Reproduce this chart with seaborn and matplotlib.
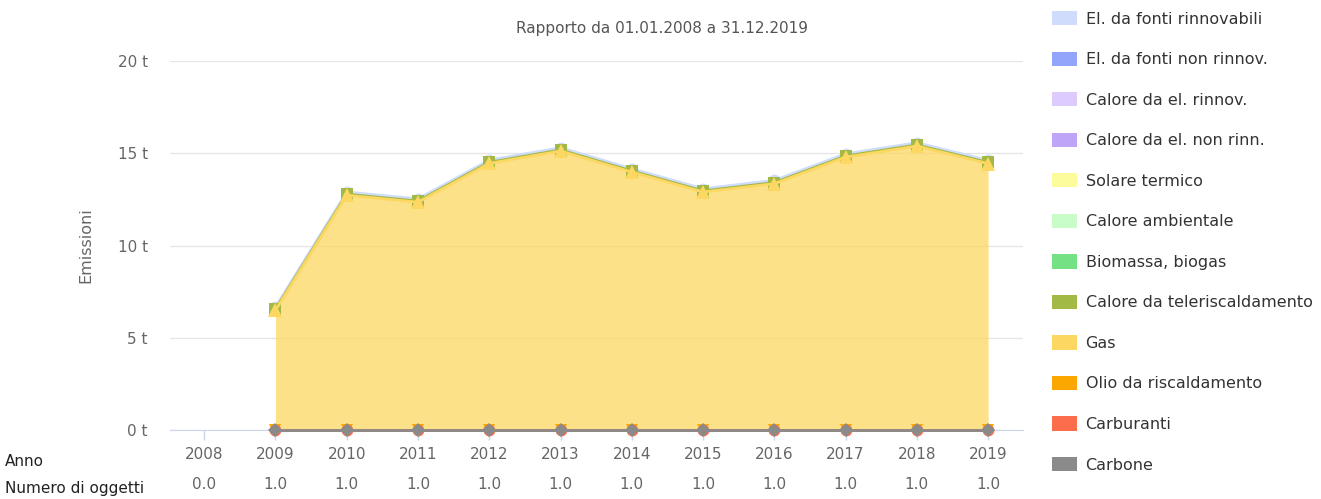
import numpy as np
import pandas as pd
import matplotlib
matplotlib.use("Agg")
import matplotlib.pyplot as plt
import matplotlib.patches as mpatches
import matplotlib.transforms as mtransforms
import seaborn as sns

# Data
anni = [2008, 2009, 2010, 2011, 2012, 2013, 2014, 2015, 2016, 2017, 2018, 2019]
numero_oggetti = [0.0, 1.0, 1.0, 1.0, 1.0, 1.0, 1.0, 1.0, 1.0, 1.0, 1.0, 1.0]

anni_dati = [2009, 2010, 2011, 2012, 2013, 2014, 2015, 2016, 2017, 2018, 2019]
carbone = [0.0, 0.0, 0.0, 0.0, 0.0, 0.0, 0.0, 0.0, 0.0, 0.0, 0.0]
carburanti = [0.0, 0.0, 0.0, 0.0, 0.0, 0.0, 0.0, 0.0, 0.0, 0.0, 0.0]
olio = [0.0, 0.0, 0.0, 0.0, 0.0, 0.0, 0.0, 0.0, 0.0, 0.0, 0.0]
gas = [6.48, 12.72, 12.35, 14.45, 15.12, 13.98, 12.90, 13.35, 14.79, 15.39, 14.44]
teleriscaldamento = [0.06, 0.06, 0.06, 0.06, 0.06, 0.06, 0.06, 0.06, 0.06, 0.06, 0.06]
el_rinnovabili = [0.12, 0.12, 0.12, 0.12, 0.12, 0.12, 0.12, 0.12, 0.12, 0.12, 0.12]

serie = ["El. da fonti rinnovabili", "El. da fonti non rinnov.", "Calore da el. rinnov.",
         "Calore da el. non rinn.", "Solare termico", "Calore ambientale", "Biomassa, biogas",
         "Calore da teleriscaldamento", "Gas", "Olio da riscaldamento", "Carburanti", "Carbone"]
colori = ["#cfdcfc", "#93a5fa", "#dccbfc", "#bfa5f8", "#fdfc9d", "#c8fcc8", "#74e184",
          "#a2b946", "#fcd862", "#fca600", "#fc6e4b", "#8a8a8a"]

sns.set_style("white")
plt.rcParams['font.family'] = ['DejaVu Sans']

fig = plt.figure(figsize=(13.21, 4.99), dpi=100)
ax = fig.add_axes([170 / 1321, 1 - 430 / 499, 853 / 1321, 369 / 499])

# stacked areas, bottom-up
stack = [("Carbone", carbone), ("Carburanti", carburanti), ("Olio da riscaldamento", olio),
         ("Gas", gas), ("Calore da teleriscaldamento", teleriscaldamento),
         ("El. da fonti rinnovabili", el_rinnovabili)]
col = dict(zip(serie, colori))
base = np.zeros(len(anni_dati))
tops = {}
for nome, vals in stack:
    top = base + np.array(vals)
    ax.fill_between(anni_dati, base, top, color=col[nome], alpha=0.75, lw=0, zorder=2)
    tops[nome] = top
    base = top

# series lines (top of each stacked layer), top series first so later ones sit on top
ordine = ["El. da fonti rinnovabili", "Calore da teleriscaldamento", "Gas",
          "Olio da riscaldamento", "Carburanti", "Carbone"]
markers = {"El. da fonti rinnovabili": "o", "Calore da teleriscaldamento": "s", "Gas": "^",
           "Olio da riscaldamento": "v", "Carburanti": "o", "Carbone": "D"}
msize = {"o": 8.5, "s": 8.5, "^": 9.5, "v": 8, "D": 7}
for i, nome in enumerate(ordine):
    df = pd.DataFrame({"anno": anni_dati, "valore": tops[nome]})
    m = markers[nome]
    sns.lineplot(data=df, x="anno", y="valore", ax=ax, color=col[nome], lw=2,
                 marker=m, markersize=msize[m], markeredgewidth=0)
for i, line in enumerate(ax.get_lines()):
    line.set_zorder(4 + i)
    line.set_clip_on(False)

# axes styling
ax.set_xlim(2007.52, 2019.49)
ax.set_ylim(0, 20)
ax.set_yticks([0, 5, 10, 15, 20])
ax.set_yticklabels(["0 t", "5 t", "10 t", "15 t", "20 t"])
ax.set_xticks(anni)
ax.set_xticklabels([str(a) for a in anni])
ax.grid(axis="y", color="#e6e6e6", lw=1)
ax.grid(axis="x", visible=False)
ax.set_axisbelow(True)
for s in ["top", "right", "left"]:
    ax.spines[s].set_visible(False)
ax.spines["bottom"].set_color("#ccd6eb")
ax.spines["bottom"].set_zorder(1)
ax.tick_params(axis="y", length=0, pad=16, labelsize=11, labelcolor="#666666")
ax.tick_params(axis="x", length=7, width=1, color="#ccd6eb", pad=5, labelsize=11,
               labelcolor="#666666", bottom=True)
ax.set_xlabel("")
ax.set_ylabel("Emissioni", fontsize=11.5, color="#666666")
ax.yaxis.set_label_coords(-0.09, 0.5)

fig.text(662 / 1321, 1 - 28 / 499, "Rapporto da 01.01.2008 a 31.12.2019", ha="center",
         va="center", fontsize=11, color="#555555")

# second row under the years
trans = mtransforms.blended_transform_factory(ax.transData, ax.transAxes)
for a, n in zip(anni, numero_oggetti):
    ax.text(a, -0.148, f"{n:.1f}", transform=trans, ha="center", va="center",
            fontsize=11, color="#666666")
fig.text(5 / 1321, 1 - 462 / 499, "Anno", ha="left", va="center", fontsize=11, color="#222222")
fig.text(5 / 1321, 1 - 489 / 499, "Numero di oggetti", ha="left", va="center", fontsize=11,
         color="#222222")

handles = [mpatches.Patch(facecolor=c, edgecolor="none", label=s) for s, c in zip(serie, colori)]
fig.legend(handles=handles, loc="upper left", bbox_to_anchor=(1052 / 1321, 1 - 11 / 499),
           frameon=False, fontsize=11.5, labelcolor="#333333", handlelength=1.55,
           handleheight=1.0, handletextpad=0.55, labelspacing=1.56, borderpad=0,
           borderaxespad=0)

fig.savefig("out.png", dpi=100)
